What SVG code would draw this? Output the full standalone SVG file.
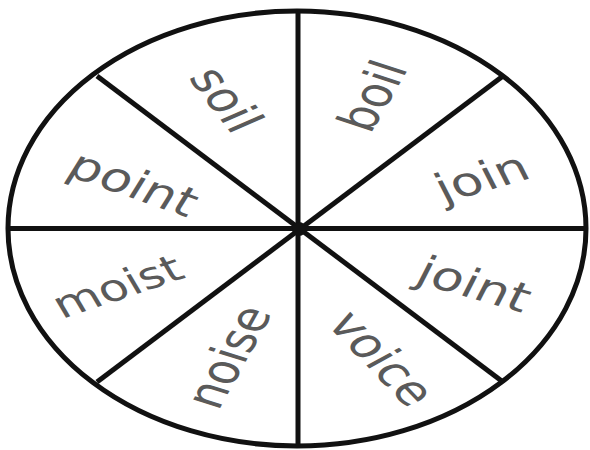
<svg xmlns="http://www.w3.org/2000/svg" width="590" height="450" viewBox="0 0 590 450">
<style>
.rim{fill:#fff;stroke:#111;stroke-width:5}
.ln{stroke:#111;stroke-width:5;stroke-linecap:butt}
.w{font-family:"DejaVu Sans","Liberation Sans",sans-serif;font-size:40px;fill:#5a5a5a;text-anchor:middle}
</style>
<rect width="590" height="450" fill="#fff"/>
<g id="wheel"><ellipse class="rim" cx="297" cy="228.5" rx="289" ry="217.5"/></g>
<g id="connectors">
<line class="ln" x1="298" y1="11" x2="298" y2="446"/>
<line class="ln" x1="8" y1="228.5" x2="586" y2="228.5"/>
<line class="ln" x1="97" y1="76" x2="503" y2="382"/>
<line class="ln" x1="503" y1="76" x2="97" y2="382"/>
<circle cx="299" cy="229" r="7" fill="#111"/>
</g>
<g id="soil" transform="translate(223,101) scale(1.33,1) rotate(60)"><text class="w" y="11">soil</text></g>
<g id="boil" transform="translate(376,97) scale(1.33,1) rotate(-66.5)"><text class="w" y="11">boil</text></g>
<g id="point" transform="translate(132,186) scale(1.33,1) rotate(25)"><text class="w" y="11">point</text></g>
<g id="join" transform="translate(483,180) scale(1.33,1) rotate(-21)"><text class="w" y="11">join</text></g>
<g id="moist" transform="translate(119,289) scale(1.33,1) rotate(-24)"><text class="w" y="10" style="font-size:37px">moist</text></g>
<g id="joint" transform="translate(473,287) scale(1.33,1) rotate(21)"><text class="w" y="11">joint</text></g>
<g id="noise" transform="translate(232,358) scale(1.33,1) rotate(-67.4)"><text class="w" y="11">noise</text></g>
<g id="voice" transform="translate(379,360) scale(1.33,1) rotate(54)"><text class="w" y="11">voice</text></g>
</svg>
